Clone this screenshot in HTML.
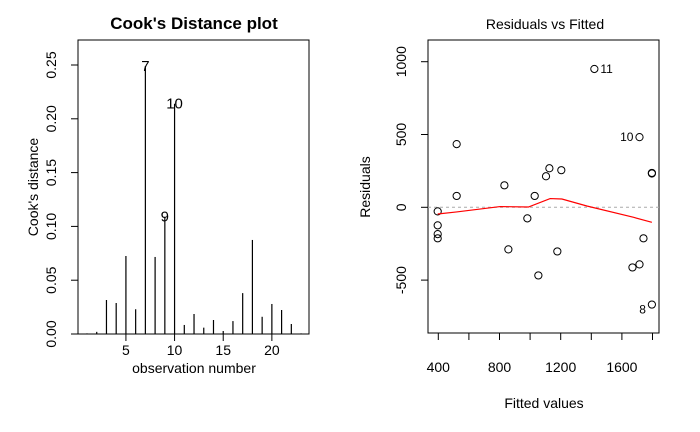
<!DOCTYPE html>
<html><head><meta charset="utf-8"><style>
body{margin:0;background:#fff;}
svg{display:block;font-family:"Liberation Sans",Arial,sans-serif;}
</style></head><body>
<svg id="c" width="700" height="432" viewBox="0 0 700 432">
<rect width="700" height="432" fill="#fff"/>
<g id="left"></g>
<g id="right"></g>
</svg>
<script>
// Cook's distance data
const obsNumbers = [1,2,3,4,5,6,7,8,9,10,11,12,13,14,15,16,17,18,19,20,21,22,23];
const cooksValues = [0.0006,0.002,0.0316,0.0288,0.0725,0.023,0.249,0.0716,0.109,0.214,0.0084,0.0186,0.0059,0.013,0.0028,0.012,0.038,0.0874,0.016,0.0279,0.0223,0.0093,0.0006];
const cooksLabels = ["7","10","9"];
const cooksXTicks = [5,10,15,20];
const cooksYTicks = [0,0.05,0.10,0.15,0.20,0.25];
const cooksYTickLabels = ["0.00","0.05","0.10","0.15","0.20","0.25"];
// Residuals vs fitted data
const fittedValues = [396,396,396,396,520,520,832,858,982,1030,1054,1104,1126,1178,1204,1420,1669,1715,1715,1741,1796,1796,1796];
const residualValues = [-28,-124,-184,-213,434,78,151,-289,-76,78,-468,213,268,-303,255,950,-413,-392,482,-213,232,236,-668];
const pointIds = [1,2,3,4,5,6,12,13,14,15,16,17,18,19,20,11,21,22,10,23,24,25,8];
const labeledIds = [11,10,8];
const smoothFitted = [396,520,804,989,1131,1208,1371,1677,1796];
const smoothResid = [-46,-32,5,2,60,57,9,-69,-103];
const resXTicks = [400,800,1200,1600];
const resXMinor = [600,1000,1400,1800];
const resYTicks = [-500,0,500,1000];

const NS="http://www.w3.org/2000/svg";
function mk(parent,tag,attrs,text){const e=document.createElementNS(NS,tag);for(const k in attrs)e.setAttribute(k,attrs[k]);if(text!==undefined)e.textContent=text;parent.appendChild(e);return e;}

// ---- left panel
const L=document.getElementById('left');
const lx=o=>87+(o-1)*9.73;
const ly=v=>334-v*(269/0.25);
let e;
e=mk(L,'rect',{x:78,y:40,width:231,height:294,fill:'none',stroke:'#000'});

e=mk(L,'text',{x:194,y:29,'text-anchor':'middle','font-size':17,'font-weight':'bold'},"Cook's Distance plot");

obsNumbers.forEach((o,i)=>{
  const b=mk(L,'line',{x1:lx(o),x2:lx(o),y1:ly(0),y2:ly(cooksValues[i]),stroke:'#000','stroke-width':1.2});
  
  if(cooksLabels.includes(String(o))){
    const t=mk(L,'text',{x:lx(o),y:ly(cooksValues[i])+5,'text-anchor':'middle','font-size':15},String(o));
    
  }
});
cooksXTicks.forEach(t=>{
  const l=mk(L,'line',{x1:lx(t),x2:lx(t),y1:334,y2:341,stroke:'#000'});
  
  const tx=mk(L,'text',{x:lx(t),y:355,'text-anchor':'middle','font-size':14},String(t));
  
});
cooksYTicks.forEach((t,i)=>{
  const l=mk(L,'line',{x1:71,x2:78,y1:ly(t),y2:ly(t),stroke:'#000'});
  
  const tx=mk(L,'text',{x:0,y:0,'text-anchor':'middle','font-size':14,transform:`translate(56,${ly(t)}) rotate(-90)`},cooksYTickLabels[i]);
  
});
e=mk(L,'text',{x:194,y:373,'text-anchor':'middle','font-size':14},'observation number');

e=mk(L,'text',{x:0,y:0,'text-anchor':'middle','font-size':14,transform:'translate(38,187) rotate(-90)'},"Cook's distance");


// ---- right panel
const R=document.getElementById('right');
const rx=f=>438.3+(f-400)*(61.2/400);
const ry=r=>207.3-r*(72.8/500);
e=mk(R,'rect',{x:428,y:40,width:231,height:293,fill:'none',stroke:'#000'});

e=mk(R,'text',{x:545,y:29,'text-anchor':'middle','font-size':14},'Residuals vs Fitted');

e=mk(R,'line',{x1:428,x2:659,y1:ry(0),y2:ry(0),stroke:'#aaa','stroke-dasharray':'3,3'});

fittedValues.forEach((f,i)=>{
  const c=mk(R,'circle',{cx:rx(f),cy:ry(residualValues[i]),r:3.6,fill:'none',stroke:'#000','stroke-width':1});
  
  const id=pointIds[i];
  if(labeledIds.includes(id)){
    let x=rx(f),y=ry(residualValues[i])+4,anchor='start';
    if(id===11){x+=6;}
    else if(id===10){x-=6;anchor='end';}
    else {x-=6;y+=5;anchor='end';}
    const t=mk(R,'text',{x:x,y:y,'text-anchor':anchor,'font-size':12},String(id));
    
  }
});
let d='';
smoothFitted.forEach((f,i)=>{d+=(i?'L':'M')+rx(f)+','+ry(smoothResid[i]);});
e=mk(R,'path',{d:d,fill:'none',stroke:'#f00','stroke-width':1.2});

resXTicks.forEach(t=>{
  const l=mk(R,'line',{x1:rx(t),x2:rx(t),y1:333,y2:340,stroke:'#000'});
  
  const tx=mk(R,'text',{x:rx(t),y:372,'text-anchor':'middle','font-size':14},String(t));
  
});
resXMinor.forEach(t=>{
  const l=mk(R,'line',{x1:rx(t),x2:rx(t),y1:333,y2:340,stroke:'#000'});
  
});
resYTicks.forEach(t=>{
  const l=mk(R,'line',{x1:421,x2:428,y1:ry(t),y2:ry(t),stroke:'#000'});
  
  const tx=mk(R,'text',{x:0,y:0,'text-anchor':'middle','font-size':14,transform:`translate(406,${ry(t)}) rotate(-90)`},String(t));
  
});
e=mk(R,'text',{x:544,y:408,'text-anchor':'middle','font-size':14},'Fitted values');

e=mk(R,'text',{x:0,y:0,'text-anchor':'middle','font-size':14,transform:'translate(370,187) rotate(-90)'},'Residuals');

</script>
</body></html>
